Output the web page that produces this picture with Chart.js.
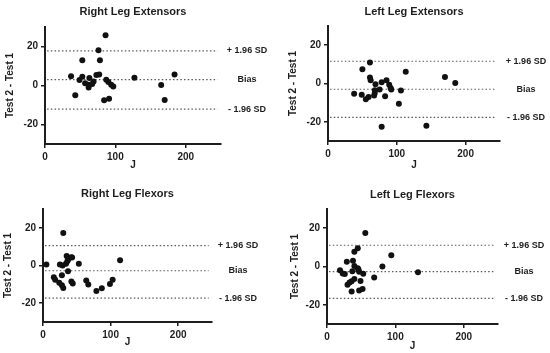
<!DOCTYPE html>
<html>
<head>
<meta charset="utf-8">
<script src="https://cdn.jsdelivr.net/npm/chart.js@4/dist/chart.umd.min.js"></script>
<style>
  html, body { margin: 0; padding: 0; background: #fff; }
  #wrap { position: relative; width: 550px; height: 353px; }
  canvas { position: absolute; }
</style>
</head>
<body>
<div id="wrap">
  <canvas id="c1" width="275" height="176" style="left:0;top:0"></canvas>
  <canvas id="c2" width="275" height="176" style="left:275px;top:0"></canvas>
  <canvas id="c3" width="275" height="177" style="left:0;top:176px"></canvas>
  <canvas id="c4" width="275" height="177" style="left:275px;top:176px"></canvas>
</div>
<script>
const xTicks = [0, 100, 200];
const yTicks = [-20, 0, 20];
const sdLabels = ["+ 1.96 SD", "Bias", "- 1.96 SD"];
const limitSpan = [3, 245];

// Right Leg Extensors
const rleJ = [86, 76, 53, 78, 37, 53, 49, 73, 77, 63, 57, 62, 62, 69, 67, 87, 90, 94, 97, 43, 84, 91, 127, 165, 170, 184];
const rleDiff = [25.8, 18.1, 13, 13, 4.8, 4.5, 2.8, 5.4, 5.6, 3.9, 1.1, 0.4, -1.0, 2.0, 0.8, 3.0, 1.8, 0.4, -0.5, -5.0, -7.5, -6.8, 4.0, 0.3, -7.4, 5.6];
const rleLimits = [17.8, 3.0, -12.1];

// Left Leg Extensors
const lleJ = [61, 50, 61, 62, 113, 170, 185, 69, 78, 85, 89, 91, 92, 75, 68, 68, 67, 106, 83, 38, 49, 55, 59, 103, 78, 143];
const lleDiff = [11.0, 7.5, 3.1, 1.7, 6.1, 3.4, 0.2, -0.4, 0.7, 1.7, -0.7, -2.3, -3.1, -3.1, -3.5, -4.9, -6.3, -3.7, -6.6, -5.4, -5.9, -8.2, -7.1, -10.6, -22.6, -22.1];
const lleLimits = [11.6, -3.0, -17.7];

// Right Leg Flexors
const rlfJ = [30, 5, 25, 29, 34, 35, 36, 42, 43, 37, 37, 53, 28, 16, 18, 24, 28, 30, 42, 44, 64, 67, 79, 87, 99, 103, 114];
const rlfDiff = [17.2, 0.5, 0.5, 0, 0.9, 5.0, 2.3, 4.4, 4.3, 3.0, -3.0, 0.9, -5.2, -6.2, -7.6, -9.1, -10.5, -11.9, -8.5, -9.6, -8.0, -10.1, -13.5, -12.1, -9.8, -7.6, 2.8];
const rlfLimits = [10.6, -2.8, -17.3];

// Left Leg Flexors
const llfJ = [56, 94, 81, 133, 69, 45, 40, 29, 38, 19, 23, 26, 37, 40, 45, 47, 53, 49, 40, 36, 33, 30, 36, 47, 52, 46];
const llfDiff = [17.5, 5.9, 0, -3.0, -5.7, 9.5, 7.7, 2.5, 3.0, -2.0, -3.6, -3.9, -2.5, 0.3, -0.9, -2.7, -3.8, -7.5, -6.5, -7.7, -8.4, -9.5, -13.0, -12.5, -11.7, -1.5];
const llfLimits = [11.1, -2.7, -16.6];

const FONT = '"Liberation Sans", Arial, sans-serif';
const INK = "#1e1e1e";

const panelText = {
    id: "panelText",
    afterDraw(chart, args, opts) {
        const { ctx, chartArea, scales } = chart;
        ctx.save();
        ctx.fillStyle = INK;
        ctx.textAlign = "center";
        ctx.textBaseline = "middle";
        ctx.font = "bold 11px " + FONT;
        ctx.fillText(opts.title, (chartArea.left + chartArea.right) / 2, opts.titleY);
        ctx.font = "bold 9px " + FONT;
        opts.limits.forEach((v, i) => {
            ctx.fillText(sdLabels[i], chartArea.right + 26, scales.y.getPixelForValue(v));
        });
        ctx.restore();
    },
};

function makePanel(id, title, jVals, diffVals, limits, geo) {
    const points = jVals.map((j, i) => ({ x: j, y: diffVals[i] }));
    const limitSets = limits.map((v) => ({
        data: limitSpan.map((x) => ({ x: x, y: v })),
        showLine: true,
        pointRadius: 0,
        borderColor: "#5a5a5a",
        borderWidth: 1.2,
        borderDash: [1.5, 2.2],
    }));
    new Chart(document.getElementById(id), {
        type: "scatter",
        data: {
            datasets: [
                {
                    data: points,
                    pointRadius: 3,
                    pointBackgroundColor: "#111",
                    pointBorderColor: "#111",
                    pointBorderWidth: 0,
                },
            ].concat(limitSets),
        },
        options: {
            responsive: false,
            animation: false,
            layout: { padding: { top: geo.top, right: geo.right, left: 0, bottom: 0 } },
            plugins: {
                legend: { display: false },
                tooltip: { enabled: false },
                panelText: { title: title, titleY: geo.titleY, limits: limits },
            },
            scales: {
                x: {
                    type: "linear",
                    min: 0,
                    max: 250,
                    afterBuildTicks: (s) => { s.ticks = xTicks.map((v) => ({ value: v })); },
                    afterFit: (s) => { s.height = geo.xh; },
                    border: { display: true, color: INK, width: 2 },
                    grid: { drawOnChartArea: false, drawTicks: true, tickLength: 4, color: INK, lineWidth: 1.5 },
                    ticks: { color: INK, font: { family: FONT, size: 10, weight: "bold" }, padding: 3 },
                    title: {
                        display: true,
                        text: "J",
                        color: INK,
                        font: { family: FONT, size: 10, weight: "bold" },
                        padding: { top: 0, bottom: geo.xtPad },
                    },
                },
                y: {
                    min: -30,
                    max: 30,
                    afterBuildTicks: (s) => { s.ticks = yTicks.map((v) => ({ value: v })); },
                    afterFit: (s) => { s.width = geo.yw; },
                    border: { display: true, color: INK, width: 2 },
                    grid: { drawOnChartArea: false, drawTicks: true, tickLength: 4, color: INK, lineWidth: 1.5 },
                    ticks: { color: INK, font: { family: FONT, size: 10, weight: "bold" }, padding: 3 },
                    title: {
                        display: true,
                        text: "Test 2 - Test 1",
                        color: INK,
                        font: { family: FONT, size: 10, weight: "bold" },
                        padding: { top: geo.ytPad, bottom: 0 },
                    },
                },
            },
        },
        plugins: [panelText],
    });
}

makePanel("c1", "Right Leg Extensors", rleJ, rleDiff, rleLimits,
    { top: 27, right: 54, yw: 45, xh: 32, titleY: 12, xtPad: 5, ytPad: 4 });
makePanel("c2", "Left Leg Extensors", lleJ, lleDiff, lleLimits,
    { top: 26, right: 50, yw: 53, xh: 35, titleY: 12, xtPad: 5, ytPad: 12 });
makePanel("c3", "Right Leg Flexors", rlfJ, rlfDiff, rlfLimits,
    { top: 33, right: 63, yw: 43, xh: 31, titleY: 18, xtPad: 5, ytPad: 2 });
makePanel("c4", "Left Leg Flexors", llfJ, llfDiff, llfLimits,
    { top: 33, right: 52, yw: 52, xh: 29, titleY: 19, xtPad: 1, ytPad: 14 });
</script>
</body>
</html>
